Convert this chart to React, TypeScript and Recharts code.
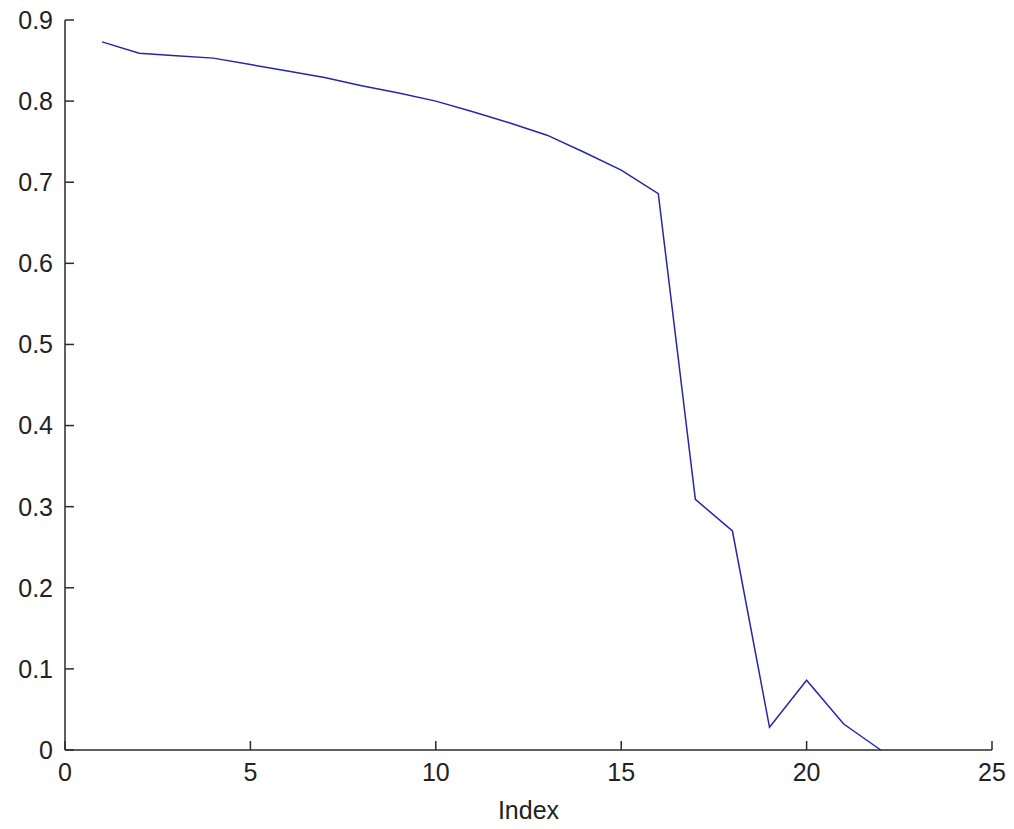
import { LineChart, Line, XAxis, YAxis } from 'recharts';

// Index positions and the value read at each one
const indexes = [1, 2, 3, 4, 5, 6, 7, 8, 9, 10, 11, 12, 13, 14, 15, 16, 17, 18, 19, 20, 21, 22];
const values = [
    0.873, 0.859, 0.856, 0.853, 0.845, 0.837, 0.829, 0.819, 0.81, 0.8, 0.787,
    0.773, 0.758, 0.737, 0.715, 0.686, 0.309, 0.27, 0.028, 0.086, 0.032, 0.0,
];

const xTicks = [0, 5, 10, 15, 20, 25];
const yTicks = [0, 0.1, 0.2, 0.3, 0.4, 0.5, 0.6, 0.7, 0.8, 0.9];

const data = indexes.map((idx, i) => ({ idx, value: values[i] }));

const axisColor = '#2a2a2a';
const textColor = '#222';
const font = '"Liberation Sans", Arial, sans-serif';
const fontSize = 25;
const tickLen = 9;
const xGap = 13;
const yGap = 12;

// matlab style: tick marks point into the plot, labels stay outside
const XTick = ({ x, y, payload }: any) => (
    <g>
        <line x1={x} x2={x} y1={y - xGap} y2={y - xGap - tickLen} stroke={axisColor} strokeWidth={1.5} />
        <text x={x} y={y} dy="0.71em" textAnchor="middle" fill={textColor} fontSize={fontSize}>
            {payload.value}
        </text>
    </g>
);

const YTick = ({ x, y, payload }: any) => (
    <g>
        <line x1={x + yGap} x2={x + yGap + tickLen} y1={y} y2={y} stroke={axisColor} strokeWidth={1.5} />
        <text x={x} y={y} dy="0.355em" textAnchor="end" fill={textColor} fontSize={fontSize}>
            {String(payload.value)}
        </text>
    </g>
);

export default function App() {
    return (
        <div style={{ position: 'absolute', left: 0, top: 0, width: 1014, height: 829, background: '#fff' }}>
            <LineChart
                width={1014}
                height={829}
                data={data}
                margin={{ top: 20, right: 22, bottom: 0, left: 0 }}
                style={{ fontFamily: font }}
            >
                <XAxis
                    dataKey="idx"
                    type="number"
                    domain={[0, 25]}
                    ticks={xTicks}
                    height={79}
                    tickLine={false}
                    tickSize={0}
                    tickMargin={xGap}
                    stroke={axisColor}
                    strokeWidth={1.5}
                    tick={<XTick />}
                    label={{ value: 'Index', position: 'insideBottom', offset: 10, fill: textColor, fontSize }}
                />
                <YAxis
                    type="number"
                    domain={[0, 0.9]}
                    ticks={yTicks}
                    width={65}
                    tickLine={false}
                    tickSize={0}
                    tickMargin={yGap}
                    stroke={axisColor}
                    strokeWidth={1.5}
                    tick={<YTick />}
                />
                <Line
                    dataKey="value"
                    stroke="#2626a6"
                    strokeWidth={1.5}
                    dot={false}
                    isAnimationActive={false}
                />
            </LineChart>
        </div>
    );
}
